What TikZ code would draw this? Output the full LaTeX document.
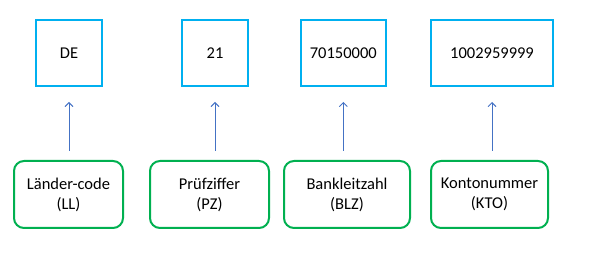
\documentclass[tikz,border=0pt]{standalone}
\usepackage{fontspec}
\setmainfont{Carlito}
\usetikzlibrary{arrows.meta}
\definecolor{boxblue}{HTML}{00B0F0}
\definecolor{boxgreen}{HTML}{00B050}
\definecolor{arrblue}{HTML}{4472C4}
\begin{document}
\begin{tikzpicture}[x=1pt,y=-1pt,
  valbox/.style={draw=boxblue,line width=2pt,minimum height=66pt,inner sep=0pt,
    font=\fontsize{16.5}{20}\selectfont},
  namebox/.style={draw=boxgreen,line width=2pt,rounded corners=10pt,minimum height=67pt,
    inner sep=0pt,align=center,font=\fontsize{16.5}{20}\selectfont},
  arr/.style={draw=arrblue,line width=0.9pt,-{Straight Barb[length=4pt,width=8pt]},
    shorten <=9pt,shorten >=15pt}]
\useasboundingbox (0,0) rectangle (589,256);
\node[valbox,minimum width=66pt] (de) at (69,53) {DE};
\node[valbox,minimum width=66pt] (pz) at (215,53) {21};
\node[valbox,minimum width=85.3pt] (blz) at (343.3,53) {70150000};
\node[valbox,minimum width=122.3pt] (kto) at (492,53) {1002959999};
\node[namebox,minimum width=109pt] (nll) at (68.5,194.5) {Länder-code\\(LL)};
\node[namebox,minimum width=119pt] (npz) at (209.5,194.5) {Prüfziffer\\(PZ)};
\node[namebox,minimum width=126pt] (nblz) at (347,194.5) {Bankleitzahl\\(BLZ)};
\node[namebox,minimum width=117pt] (nkto) at (489.5,194.5) {Kontonummer\\(KTO)};
\draw[arr] (nll.north -| de.south) -- (de.south);
\draw[arr] (npz.north -| pz.south) -- (pz.south);
\draw[arr] (nblz.north -| blz.south) -- (blz.south);
\draw[arr] (nkto.north -| kto.south) -- (kto.south);
\end{tikzpicture}
\end{document}
